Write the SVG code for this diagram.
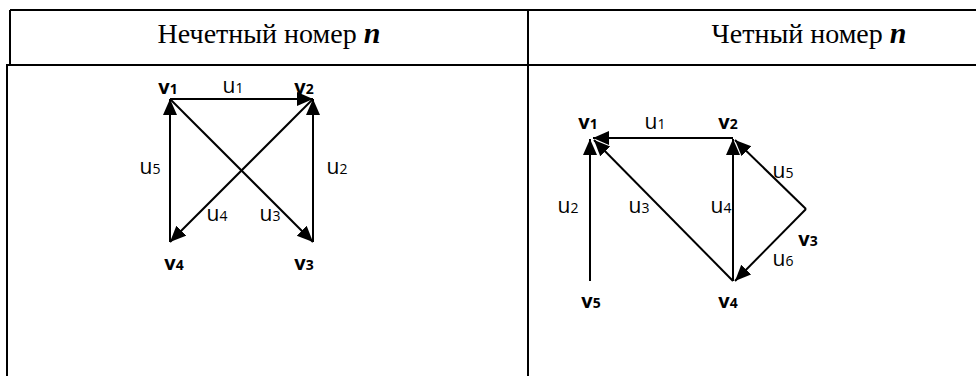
<svg xmlns="http://www.w3.org/2000/svg" width="976" height="376" viewBox="0 0 976 376">
<style>
  .tbl { stroke: #000; stroke-width: 2; fill: none; }
  .hdr { font-family: "Liberation Serif", "Times New Roman", serif; font-size: 28px; fill: #000; text-anchor: middle; }
  .mth { font-family: "Liberation Serif", serif; font-weight: bold; font-style: italic; font-size: 30px; }
  .edge { stroke: #000; stroke-width: 2; fill: none; marker-end: url(#ah); }
  .vl { font-family: "Open Sans", "Liberation Sans", sans-serif; font-weight: bold; font-size: 20px; fill: #000; text-anchor: middle; }
  .ul { font-family: "Open Sans", "Liberation Sans", sans-serif; font-size: 21px; fill: #000; text-anchor: middle; }
  .sub { font-size: 14px; }
</style>
<defs>
  <marker id="ah" markerUnits="userSpaceOnUse" markerWidth="17" markerHeight="15" refX="16" refY="7" orient="auto">
    <path d="M0,0 L16,7 L0,14 Z" fill="#000"/>
  </marker>
</defs>
<rect width="976" height="376" fill="#fff"/>
<g id="table">
  <path class="tbl" d="M10,10 H976 M10,10 V65 M7,65 H976 M7,64 V376 M528,10 V376"/>
  <text class="hdr" x="269" y="43">Нечетный номер <tspan class="mth">n</tspan></text>
  <text class="hdr" x="809" y="43">Четный номер <tspan class="mth">n</tspan></text>
</g>
<g id="connectors">
  <line class="edge" x1="170" y1="99" x2="313" y2="99"/>
  <line class="edge" x1="313" y1="242" x2="313" y2="99"/>
  <line class="edge" x1="170" y1="99" x2="313" y2="242"/>
  <line class="edge" x1="313" y1="99" x2="170" y2="242"/>
  <line class="edge" x1="170" y1="242" x2="170" y2="99"/>

  <line class="edge" x1="733" y1="138" x2="593" y2="138"/>
  <line class="edge" x1="590" y1="281" x2="590" y2="139"/>
  <line class="edge" x1="733" y1="281" x2="594" y2="140"/>
  <line class="edge" x1="733" y1="281" x2="733" y2="139"/>
  <line class="edge" x1="806" y1="209" x2="735" y2="140"/>
  <line class="edge" x1="806" y1="209" x2="735" y2="281"/>
</g>
<g id="edge-labels">
  <text class="ul" x="233" y="93">u<tspan class="sub">1</tspan></text>
  <text class="ul" x="337" y="174">u<tspan class="sub">2</tspan></text>
  <text class="ul" x="270" y="221">u<tspan class="sub">3</tspan></text>
  <text class="ul" x="217" y="221">u<tspan class="sub">4</tspan></text>
  <text class="ul" x="150" y="174">u<tspan class="sub">5</tspan></text>

  <text class="ul" x="655" y="129">u<tspan class="sub">1</tspan></text>
  <text class="ul" x="568" y="213">u<tspan class="sub">2</tspan></text>
  <text class="ul" x="639" y="213">u<tspan class="sub">3</tspan></text>
  <text class="ul" x="721" y="213">u<tspan class="sub">4</tspan></text>
  <text class="ul" x="783" y="178">u<tspan class="sub">5</tspan></text>
  <text class="ul" x="783" y="266">u<tspan class="sub">6</tspan></text>
</g>
<g id="A-v1"><text class="vl" x="168" y="94">v<tspan class="sub">1</tspan></text></g>
<g id="A-v2"><text class="vl" x="304" y="94">v<tspan class="sub">2</tspan></text></g>
<g id="A-v3"><text class="vl" x="304" y="270">v<tspan class="sub">3</tspan></text></g>
<g id="A-v4"><text class="vl" x="174" y="270">v<tspan class="sub">4</tspan></text></g>

<g id="B-v1"><text class="vl" x="588" y="129">v<tspan class="sub">1</tspan></text></g>
<g id="B-v2"><text class="vl" x="728" y="129">v<tspan class="sub">2</tspan></text></g>
<g id="B-v3"><text class="vl" x="808" y="246">v<tspan class="sub">3</tspan></text></g>
<g id="B-v4"><text class="vl" x="728" y="308">v<tspan class="sub">4</tspan></text></g>
<g id="B-v5"><text class="vl" x="591" y="308">v<tspan class="sub">5</tspan></text></g>
</svg>
